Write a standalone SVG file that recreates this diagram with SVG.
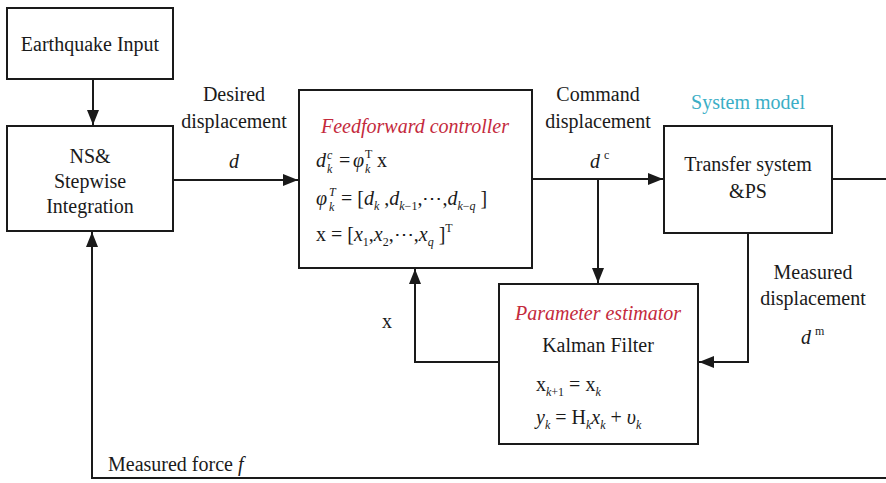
<svg xmlns="http://www.w3.org/2000/svg" width="886" height="483" viewBox="0 0 886 483">
  <style>
    text { font-family: "Liberation Serif", Tinos, "Times New Roman", "DejaVu Serif", serif; font-size: 20px; fill: #1a1a1a; }
    .mid { text-anchor: middle; }
    .it { font-style: italic; }
    .red { fill: #c42a3c; font-style: italic; }
    .teal { fill: #3aaec6; }
    .sm { font-size: 12px; }
    .box { fill: #ffffff; stroke: #1a1a1a; stroke-width: 2; }
    .wire { fill: none; stroke: #1a1a1a; stroke-width: 2; }
  </style>
  <defs>
    <marker id="arrow" viewBox="0 0 15 12" refX="15" refY="6" markerWidth="15" markerHeight="12" markerUnits="userSpaceOnUse" orient="auto">
      <path d="M0,0 L15,6 L0,12 Z" fill="#1a1a1a"/>
    </marker>
  </defs>

  <rect width="886" height="483" fill="#ffffff"/>

  <!-- connectors -->
  <g id="connectors">
    <path class="wire" d="M93,79 V125" marker-end="url(#arrow)"/>
    <path class="wire" d="M173,180 H298" marker-end="url(#arrow)"/>
    <path class="wire" d="M532,179 H663" marker-end="url(#arrow)"/>
    <path class="wire" d="M598,179 V283" marker-end="url(#arrow)"/>
    <path class="wire" d="M832,179 H886"/>
    <path class="wire" d="M748,233 V362 H699" marker-end="url(#arrow)"/>
    <path class="wire" d="M499,362 H415 V269" marker-end="url(#arrow)"/>
    <path class="wire" d="M886,478 H92 V232" marker-end="url(#arrow)"/>
  </g>

  <!-- edge labels -->
  <g id="labels">
    <text class="mid" x="234" y="101">Desired</text>
    <text class="mid" x="234" y="128">displacement</text>
    <text class="mid it" x="234" y="168">d</text>
    <text class="mid" x="598" y="101">Command</text>
    <text class="mid" x="598" y="128">displacement</text>
    <text x="590" y="168"><tspan class="it">d</tspan><tspan class="sm" dx="4" dy="-9">c</tspan></text>
    <text class="mid teal" x="748" y="109">System model</text>
    <text class="mid" x="813" y="279">Measured</text>
    <text class="mid" x="813" y="305">displacement</text>
    <text x="801" y="344"><tspan class="it">d</tspan><tspan class="sm" dx="4" dy="-9">m</tspan></text>
    <text x="382" y="328">x</text>
    <text x="108" y="471">Measured force <tspan class="it">f</tspan></text>
  </g>

  <!-- nodes -->
  <g id="earthquake-input">
    <rect class="box" x="7" y="8" width="166" height="71"/>
    <text class="mid" x="90" y="51">Earthquake Input</text>
  </g>

  <g id="ns-integration">
    <rect class="box" x="7" y="126" width="166" height="105"/>
    <text class="mid" x="90" y="163">NS&amp;</text>
    <text class="mid" x="90" y="188">Stepwise</text>
    <text class="mid" x="90" y="213">Integration</text>
  </g>

  <g id="feedforward-controller">
    <rect class="box" x="299" y="90" width="233" height="178"/>
    <text class="mid red" x="415" y="133">Feedforward controller</text>
    <!-- d_k^c = phi_k^T x -->
    <text class="it" x="316" y="167">d</text>
    <text class="it sm" x="327" y="159">c</text>
    <text class="it sm" x="327" y="173">k</text>
    <text x="339" y="167">=</text>
    <text class="it" x="353" y="167">φ</text>
    <text class="sm" x="365" y="158">T</text>
    <text class="it sm" x="365" y="173">k</text>
    <text x="377" y="167">x</text>
    <!-- phi_k^T = [d_k, d_k-1, ..., d_k-q] -->
    <text class="it" x="316" y="205">φ</text>
    <text class="it sm" x="329" y="196">T</text>
    <text class="it sm" x="329" y="211">k</text>
    <text x="341" y="205">= [<tspan class="it">d</tspan><tspan class="it sm" dy="5">k</tspan><tspan dy="-5"> ,</tspan><tspan class="it">d</tspan><tspan class="it sm" dy="5">k</tspan><tspan class="sm">−1</tspan><tspan dy="-5">,⋯,</tspan><tspan class="it">d</tspan><tspan class="it sm" dy="5">k</tspan><tspan class="sm">−</tspan><tspan class="it sm">q</tspan><tspan dy="-5"> ]</tspan></text>
    <!-- x = [x_1, x_2, ..., x_q]^T -->
    <text x="316" y="241">x = [<tspan class="it">x</tspan><tspan class="sm" dy="5">1</tspan><tspan dy="-5">,</tspan><tspan class="it">x</tspan><tspan class="sm" dy="5">2</tspan><tspan dy="-5">,⋯,</tspan><tspan class="it">x</tspan><tspan class="it sm" dy="5">q</tspan><tspan dy="-5"> ]</tspan><tspan class="sm" dy="-9">T</tspan></text>
  </g>

  <g id="transfer-system">
    <rect class="box" x="664" y="126" width="168" height="107"/>
    <text class="mid" x="748" y="171">Transfer system</text>
    <text class="mid" x="748" y="198">&amp;PS</text>
  </g>

  <g id="parameter-estimator">
    <rect class="box" x="499" y="284" width="199" height="160"/>
    <text class="mid red" x="598" y="320">Parameter estimator</text>
    <text class="mid" x="598" y="352">Kalman Filter</text>
    <text x="536" y="391">x<tspan class="sm" dy="5"><tspan class="it">k</tspan>+1</tspan><tspan dy="-5"> = x</tspan><tspan class="it sm" dy="5">k</tspan></text>
    <text x="536" y="424"><tspan class="it">y</tspan><tspan class="it sm" dy="5">k</tspan><tspan dy="-5"> = H</tspan><tspan class="it sm" dy="5">k</tspan><tspan class="it" dy="-5">x</tspan><tspan class="it sm" dy="5">k</tspan><tspan dy="-5"> + </tspan><tspan class="it">υ</tspan><tspan class="it sm" dy="5">k</tspan></text>
  </g>
</svg>
